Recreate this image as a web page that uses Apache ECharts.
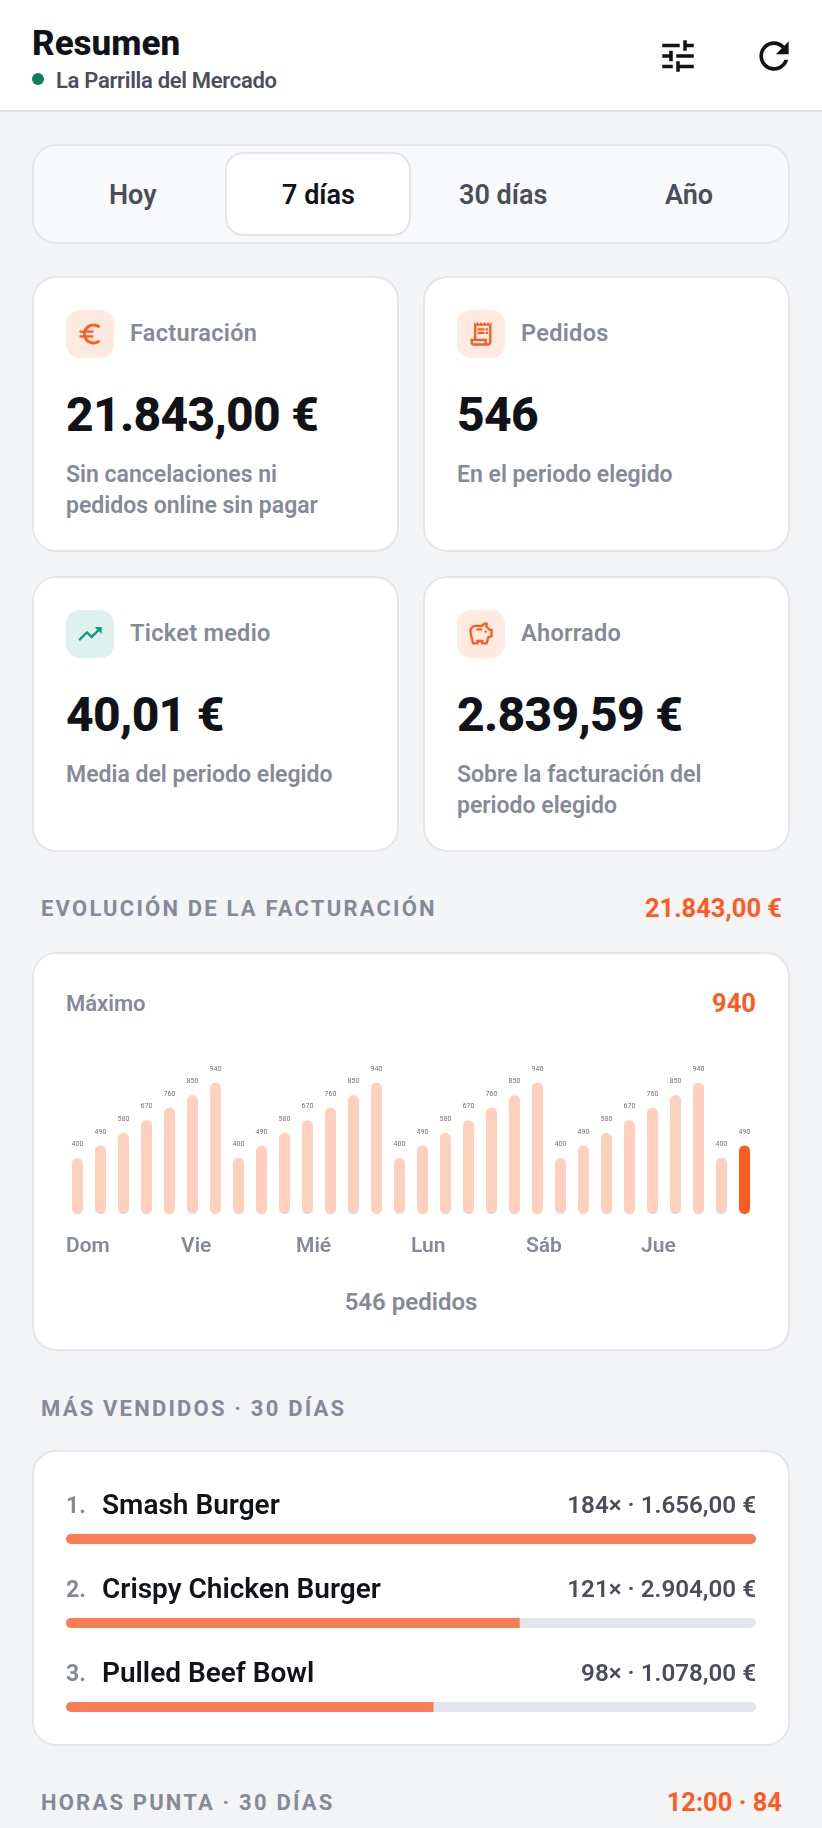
<!DOCTYPE html>
<html>
<head>
<meta charset="utf-8">
<title>Resumen</title>
<script src="https://cdn.jsdelivr.net/npm/echarts@6/dist/echarts.min.js"></script>
<style>
html, body { margin: 0; padding: 0; background: #F3F4F6; overflow: hidden; }
body { width: 822px; height: 1828px; position: relative; font-family: Roboto, sans-serif; color: #111318; }
.t { position: absolute; white-space: nowrap; line-height: 1; transform: translateY(-50%); }
.box { position: absolute; box-sizing: border-box; background: #fff; border: 2px solid #E4E6EB; border-radius: 24px; }
.tile { position: absolute; width: 48px; height: 48px; border-radius: 14px; background: #FFEAE1; }
.tile.green { background: #DFF1EF; }
.tile svg { position: absolute; left: 10px; top: 10px; width: 28px; height: 28px; fill: #FF5A1F; }
.tile.green svg { fill: #129A83; }
.lab { font-size: 23.5px; font-weight: 600; color: #858A97; letter-spacing: .3px; }
.val { font-size: 48px; font-weight: 800; color: #111318; letter-spacing: -.7px; }
.sub { font-size: 23px; font-weight: 600; color: #858A97; }
.sec { font-size: 22px; font-weight: 700; color: #858A97; letter-spacing: 2.2px; }
.acc { font-size: 25.5px; font-weight: 700; color: #FF5A1F; }
.seg { font-size: 27px; font-weight: 600; color: #4B4E59; }
.chart { position: absolute; }
</style>
</head>
<body>
<div style="position:absolute;left:0;top:0;width:822px;height:112px;background:#fff;border-bottom:2px solid #DFE1E6;box-sizing:border-box"></div>
<div class="t" style="left:32px;top:43px;font-size:35px;font-weight:800">Resumen</div>
<div style="position:absolute;left:32px;top:73px;width:12px;height:12px;border-radius:50%;background:#0E7F5E"></div>
<div class="t" style="left:56px;top:81px;font-size:22px;font-weight:600;color:#4B4E59;letter-spacing:-.3px">La Parrilla del Mercado</div>
<svg style="position:absolute;left:657px;top:35px" width="42" height="42" viewBox="0 0 24 24" fill="#111318"><path d="M3 17v2h6v-2H3zM3 5v2h10V5H3zm10 16v-2h8v-2h-8v-2h-2v6h2zM7 9v2H3v2h4v2h2V9H7zm14 4v-2H11v2h10zm-6-4h2V7h4V5h-4V3h-2v6z"/></svg>
<svg style="position:absolute;left:752px;top:34px" width="44" height="44" viewBox="0 0 24 24" fill="#111318"><path d="M17.65 6.35C16.2 4.9 14.21 4 12 4c-4.42 0-7.99 3.58-7.99 8s3.57 8 7.99 8c3.73 0 6.84-2.55 7.73-6h-2.08c-.82 2.33-3.04 4-5.65 4-3.31 0-6-2.69-6-6s2.69-6 6-6c1.66 0 3.14.69 4.22 1.78L13 11h7V4l-2.35 2.35z"/></svg>

<div class="box" style="left:32px;top:144px;width:758px;height:100px;background:#F8F9FB"></div>
<div class="box" style="left:225px;top:152px;width:186px;height:84px;border-radius:18px"></div>
<div class="t seg" style="left:109px;top:195px">Hoy</div>
<div class="t seg" style="left:282px;top:195px;color:#111318">7 días</div>
<div class="t seg" style="left:459px;top:195px">30 días</div>
<div class="t seg" style="left:665px;top:195px">Año</div>

<div class="box" style="left:32px;top:276px;width:367px;height:276px"></div>
<div class="box" style="left:423px;top:276px;width:367px;height:276px"></div>
<div class="box" style="left:32px;top:576px;width:367px;height:276px"></div>
<div class="box" style="left:423px;top:576px;width:367px;height:276px"></div>

<div class="tile" style="left:66px;top:310px"><svg viewBox="0 0 24 24"><path d="M15 18.5c-2.51 0-4.68-1.42-5.76-3.5H15v-2H8.58c-.05-.33-.08-.66-.08-1s.03-.67.08-1H15V9H9.24C10.32 6.92 12.5 5.5 15 5.5c1.61 0 3.09.59 4.23 1.57L21 5.3C19.41 3.87 17.3 3 15 3c-3.92 0-7.24 2.51-8.48 6H3v2h3.06c-.04.33-.06.66-.06 1s.02.67.06 1H3v2h3.52c1.24 3.49 4.56 6 8.48 6 2.31 0 4.41-.87 6-2.3l-1.78-1.77c-1.13.98-2.6 1.57-4.22 1.57z"/></svg></div>
<div class="t lab" style="left:130px;top:334px">Facturación</div>
<div class="t val" style="left:66px;top:415px">21.843,00 €</div>
<div class="t sub" style="left:66px;top:474px">Sin cancelaciones ni</div>
<div class="t sub" style="left:66px;top:505px">pedidos online sin pagar</div>

<div class="tile" style="left:457px;top:310px"><svg viewBox="0 0 24 24"><path d="M19.5 3.5L18 2l-1.5 1.5L15 2l-1.5 1.5L12 2l-1.5 1.5L9 2L7.5 3.5L6 2v14H3v3c0 1.66 1.34 3 3 3h12c1.66 0 3-1.34 3-3V2L19.5 3.5zM15 20H6c-.55 0-1-.45-1-1v-1h10V20zM19 19c0 .55-.45 1-1 1s-1-.45-1-1v-3H8V5h11V19zM9 7h6v2H9zM16 7h2v2h-2zM9 10h6v2H9zM16 10h2v2h-2z"/></svg></div>
<div class="t lab" style="left:521px;top:334px">Pedidos</div>
<div class="t val" style="left:457px;top:415px">546</div>
<div class="t sub" style="left:457px;top:474px">En el periodo elegido</div>

<div class="tile green" style="left:66px;top:610px"><svg viewBox="0 0 24 24"><path d="M16 6l2.29 2.29-4.88 4.88-4-4L2 16.59 3.41 18l6-6 4 4 6.3-6.29L22 12V6z"/></svg></div>
<div class="t lab" style="left:130px;top:634px">Ticket medio</div>
<div class="t val" style="left:66px;top:715px">40,01 €</div>
<div class="t sub" style="left:66px;top:774px">Media del periodo elegido</div>

<div class="tile" style="left:457px;top:610px"><svg viewBox="0 0 24 24"><path d="M15 10c0-.55.45-1 1-1s1 .45 1 1-.45 1-1 1-1-.45-1-1zM8 9h5V7H8v2zm14-1.5v6.97l-2.82.94L17.5 21H12v-2h-2v2H4.5S2 12.54 2 9.5 4.46 4 7.5 4h5c.91-1.21 2.36-2 4-2 .83 0 1.5.67 1.5 1.5 0 .21-.04.4-.12.58-.14.34-.26.73-.32 1.15L19.83 7.5H22zm-2 2h-1L15.5 6c0-.65.09-1.29.26-1.91-.97.25-1.76.97-2.09 1.91H7.5C5.57 6 4 7.57 4 9.5c0 1.88 1.22 6.65 2.01 9.5H8v-2h6v2h2.01l1.55-5.15 2.44-.82V9.5z"/></svg></div>
<div class="t lab" style="left:521px;top:634px">Ahorrado</div>
<div class="t val" style="left:457px;top:715px">2.839,59 €</div>
<div class="t sub" style="left:457px;top:774px">Sobre la facturación del</div>
<div class="t sub" style="left:457px;top:805px">periodo elegido</div>

<div class="t sec" style="left:41px;top:909px">EVOLUCIÓN DE LA FACTURACIÓN</div>
<div class="t acc" style="right:40px;top:909px">21.843,00 €</div>

<div class="box" style="left:32px;top:952px;width:758px;height:399px"></div>
<div class="t" style="left:66px;top:1004px;font-size:22px;font-weight:600;color:#858A97">Máximo</div>
<div class="t acc" style="right:66px;top:1004px">940</div>
<div id="evolution" class="chart" style="left:34px;top:1040px;width:754px;height:230px"></div>
<div class="t" style="left:0;width:822px;text-align:center;top:1302px;font-size:24px;font-weight:600;color:#858A97">546 pedidos</div>

<div class="t sec" style="left:41px;top:1409px">MÁS VENDIDOS · 30 DÍAS</div>

<div class="box" style="left:32px;top:1450px;width:758px;height:296px"></div>
<div id="ranking" class="chart" style="left:34px;top:1453px;width:754px;height:300px"></div>

<div class="t sec" style="left:41px;top:1803px">HORAS PUNTA · 30 DÍAS</div>
<div class="t acc" style="right:40px;top:1803px">12:00 · 84</div>

<script>
var dayNames = ['Dom','Lun','Mar','Mié','Jue','Vie','Sáb','Dom','Lun','Mar','Mié','Jue','Vie','Sáb','Dom','Lun','Mar','Mié','Jue','Vie','Sáb','Dom','Lun','Mar','Mié','Jue','Vie','Sáb','Dom','Lun'];
var dayValues = [400,490,580,670,760,850,940,400,490,580,670,760,850,940,400,490,580,670,760,850,940,400,490,580,670,760,850,940,400,490];
var currentDay = 29;

var products = ['Smash Burger','Crispy Chicken Burger','Pulled Beef Bowl'];
var productUnits = [184,121,98];
var productTotals = ['1.656,00 €','2.904,00 €','1.078,00 €'];

var evolution = echarts.init(document.getElementById('evolution'));
evolution.setOption({
    animation: false,
    grid: { left: 32, top: 34, width: 690, height: 140 },
    xAxis: {
        type: 'category',
        data: dayNames,
        axisLine: { show: false },
        axisTick: { show: false },
        axisLabel: {
            interval: 4,
            align: 'left',
            padding: [0, 0, 0, -11.5],
            margin: 22,
            fontFamily: 'Roboto',
            fontSize: 21,
            fontWeight: 600,
            color: '#858A97'
        }
    },
    yAxis: { type: 'value', min: 0, max: 1000, show: false },
    series: [{
        type: 'bar',
        barWidth: 11,
        data: dayValues.map(function (v, i) {
            return { value: v, itemStyle: { color: i === currentDay ? '#FF5A1F' : '#FFD0BE' } };
        }),
        itemStyle: { borderRadius: 5.5 },
        label: {
            show: true,
            position: 'top',
            distance: 10,
            fontFamily: 'Roboto',
            fontSize: 7,
            color: '#6B7280'
        }
    }]
});

var ranking = echarts.init(document.getElementById('ranking'));
ranking.setOption({
    animation: false,
    grid: { left: 32, top: 44, width: 690, height: 252 },
    xAxis: { type: 'value', min: 0, max: productUnits[0], show: false },
    yAxis: { type: 'category', inverse: true, data: products, show: false },
    series: [{
        type: 'bar',
        barWidth: 10,
        barGap: '-100%',
        silent: true,
        data: products.map(function () { return productUnits[0]; }),
        itemStyle: { color: '#E2E5EA', borderRadius: 5 },
        label: {
            show: true,
            position: 'insideRight',
            distance: 0,
            offset: [0, -32],
            fontFamily: 'Roboto',
            fontSize: 24.2,
            fontWeight: 600,
            color: '#4B4E59',
            formatter: function (p) {
                return productUnits[p.dataIndex] + '× · ' + productTotals[p.dataIndex];
            }
        }
    }, {
        type: 'bar',
        barWidth: 10,
        data: productUnits.map(function (v, i) {
            return { value: v, itemStyle: { borderRadius: i === 0 ? 5 : [5, 0, 0, 5] } };
        }),
        itemStyle: { color: '#FB7D55' },
        label: {
            show: true,
            position: 'insideLeft',
            distance: 0,
            offset: [0, -32],
            formatter: function (p) {
                return '{rank|' + (p.dataIndex + 1) + '.}{name|' + p.name + '}';
            },
            rich: {
                rank: { width: 36, fontFamily: 'Roboto', fontSize: 23, fontWeight: 700, color: '#858A97' },
                name: { fontFamily: 'Roboto', fontSize: 28, fontWeight: 600, color: '#111318' }
            }
        }
    }]
});
</script>
</body>
</html>
